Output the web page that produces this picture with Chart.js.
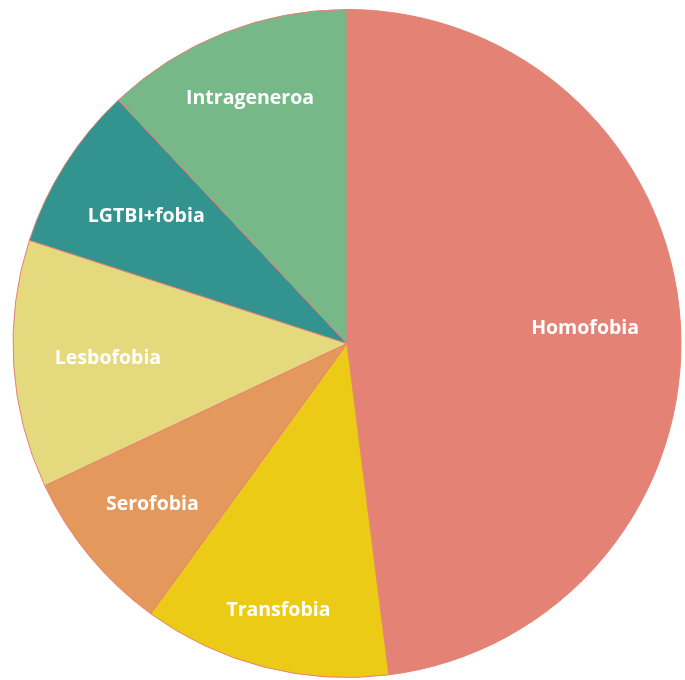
<!DOCTYPE html>
<html lang="eu">
<head>
  <meta charset="UTF-8" />
  <title>Pie</title>
  <script src="https://cdn.jsdelivr.net/npm/chart.js"></script>
  <style>
    body { margin: 0; background: #fff; overflow: hidden; }
    #wrap { width: 685px; height: 680px; }
  </style>
</head>
<body>
  <div id="wrap"><canvas id="myChart"></canvas></div>
  <script>
    const categories = ["Homofobia", "Transfobia", "Serofobia", "Lesbofobia", "LGTBI+fobia", "Intrageneroa"];
    const values = [12, 3, 2, 3, 2, 3];
    const colors = ["#E48276", "#ECCB17", "#E4985C", "#E5D97D", "#32938F", "#76B888"];

    // etiketak zatien barruan, ertzetik barrurantz
    const labelPlugin = {
      id: 'sliceLabels',
      afterDatasetsDraw(chart) {
        const ctx = chart.ctx;
        const meta = chart.getDatasetMeta(0);
        ctx.save();
        ctx.font = "bold 19.5px 'Open Sans'";
        ctx.fillStyle = "#ffffff";
        ctx.textAlign = "center";
        ctx.textBaseline = "middle";
        meta.data.forEach((arc, i) => {
          const p = arc.getProps(['x', 'y', 'startAngle', 'endAngle', 'outerRadius'], true);
          const mid = (p.startAngle + p.endAngle) / 2;
          const dx = Math.cos(mid), dy = Math.sin(mid);
          const w = ctx.measureText(categories[i]).width;
          const ext = 0.6 * (Math.abs(dx) * w + Math.abs(dy) * 22);
          const r = p.outerRadius - 30 - ext;
          ctx.fillText(categories[i], p.x + dx * r, p.y + dy * r);
        });
        ctx.restore();
      }
    };

    new Chart(document.getElementById("myChart"), {
      type: "pie",
      data: {
        labels: categories,
        datasets: [{
          data: values,
          backgroundColor: colors,
          borderColor: "#E48276",
          borderWidth: 1,
          hoverOffset: 0
        }]
      },
      options: {
        responsive: true,
        maintainAspectRatio: false,
        animation: false,
        layout: { padding: { top: 9, bottom: 2, left: 12, right: 3 } },
        plugins: {
          legend: { display: false },
          tooltip: { enabled: false }
        }
      },
      plugins: [labelPlugin]
    });
  </script>
</body>
</html>
